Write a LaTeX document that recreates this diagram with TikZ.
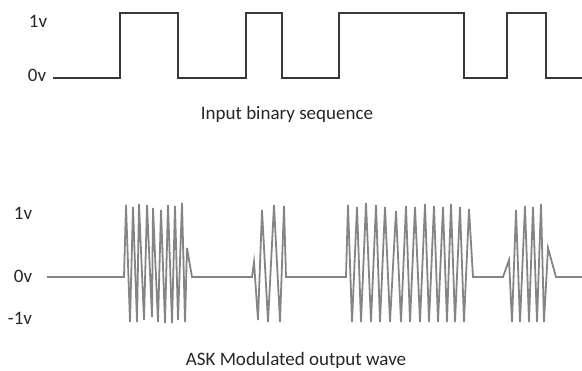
\documentclass[tikz,border=0pt]{standalone}
\usepackage{fontspec}
\setmainfont{Carlito}
\begin{document}
\begin{tikzpicture}[x=1pt,y=-1pt,
  lbl/.style={inner sep=0pt,font=\fontsize{19}{22}\selectfont,text=black!85},
  sqwave/.style={draw=black!78,line width=2.4pt,line join=miter},
  askwave/.style={draw=black!48,line width=1.8pt,line join=miter}]
\useasboundingbox (0,0) rectangle (582,371);
% labels
\node[lbl] (t1) at (38,21) {1v};
\node[lbl] (t0) at (37,75) {0v};
\node[lbl] (tin) at (287,114) {Input binary sequence};
\node[lbl] (b1) at (23,213) {1v};
\node[lbl] (b0) at (23,276) {0v};
\node[lbl] (bm) at (20,318) {-1v};
\node[lbl] (tout) at (296,360) {ASK Modulated output wave};
% binary sequence
\draw[sqwave] (53,78) -- (120,78) -- (120,13) -- (178,13) -- (178,78) -- (246,78) -- (246,13)
  -- (282,13) -- (282,78) -- (339,78) -- (339,13) -- (464,13) -- (464,78) -- (507,78)
  -- (507,13) -- (546,13) -- (546,78) -- (582,78);
% ASK wave
\draw[askwave] (47,277) -- (124,277)
  -- (126,205) -- (130,322) -- (133,207) -- (137,322) -- (139,204) -- (144,320)
  -- (147,205) -- (152,317) -- (153,208) -- (158,322) -- (161,210) -- (165,323)
  -- (168,205) -- (172,323) -- (175,206) -- (178,320) -- (182,203) -- (185,322)
  -- (187,248) -- (192,277) -- (252,277)
  -- (254,262) -- (258,320) -- (262,210) -- (268,322) -- (274,205) -- (280,322)
  -- (284,206) -- (286,277) -- (346,277)
  -- (348,205) -- (352,322) -- (357,207) -- (361,322) -- (366,203) -- (371,322)
  -- (376,205) -- (380,322) -- (385,207) -- (390,322) -- (396,211) -- (401,322)
  -- (406,206) -- (410,322) -- (415,207) -- (420,322) -- (425,204) -- (429,322)
  -- (434,206) -- (438,322) -- (443,207) -- (447,322) -- (451,204) -- (455,322)
  -- (460,207) -- (464,322) -- (469,209) -- (473,277) -- (503,277)
  -- (509,260) -- (512,322) -- (516,210) -- (520,322) -- (525,206) -- (529,322)
  -- (533,207) -- (537,322) -- (541,204) -- (544,322) -- (548,248) -- (556,277)
  -- (582,277);
\end{tikzpicture}
\end{document}
